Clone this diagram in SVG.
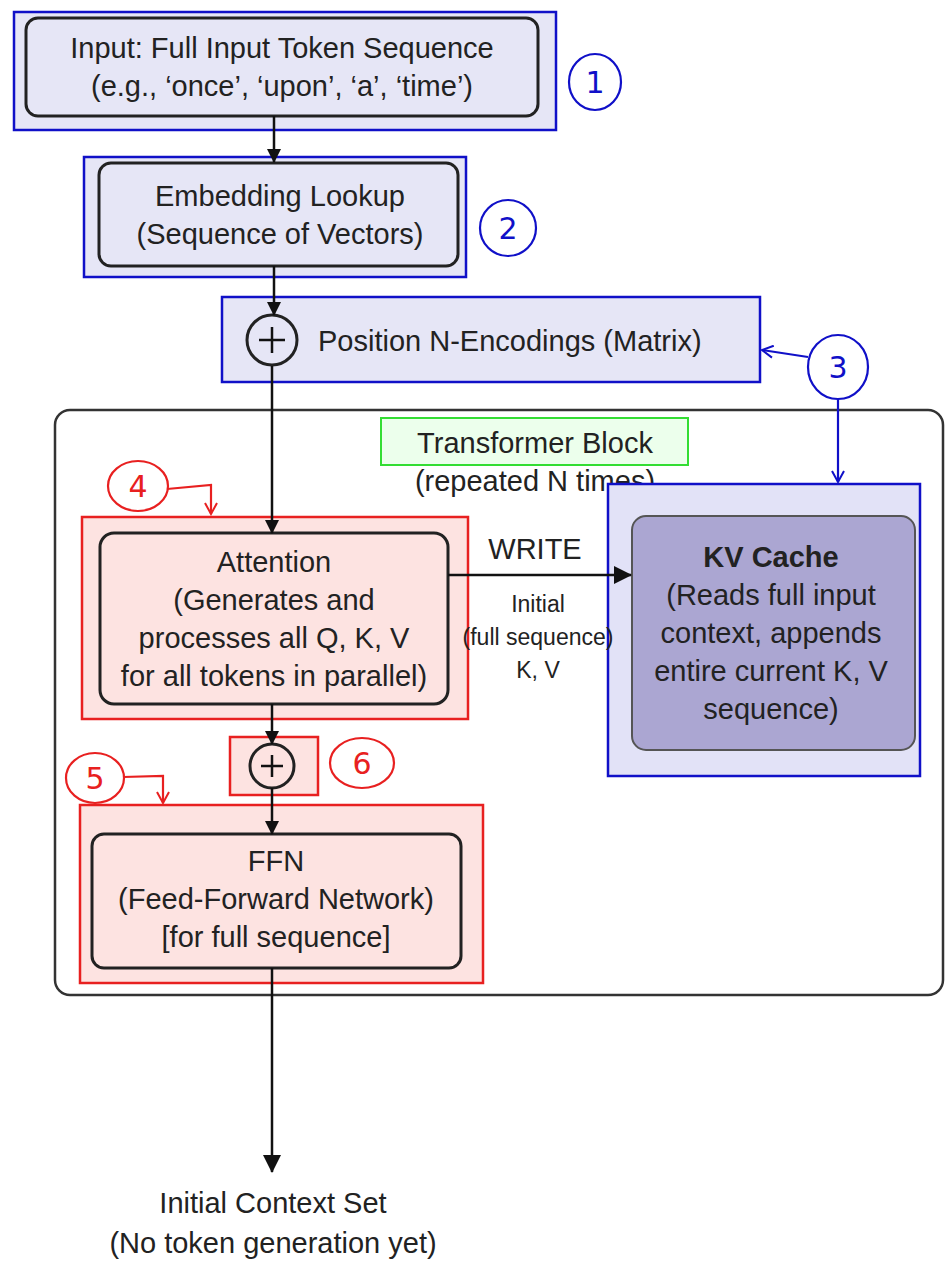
<svg xmlns="http://www.w3.org/2000/svg" width="948" height="1280" viewBox="0 0 948 1280">
<defs>
<marker id="ah" markerWidth="14" markerHeight="14" refX="13" refY="7" orient="auto" markerUnits="userSpaceOnUse" viewBox="0 0 14 14"><path d="M0,0 L14,7 L0,14 z" fill="#111"/></marker>
<marker id="ah2" markerWidth="18" markerHeight="18" refX="17" refY="9" orient="auto" markerUnits="userSpaceOnUse" viewBox="0 0 18 18"><path d="M0,0 L18,9 L0,18 z" fill="#111"/></marker>
<marker id="ob" markerWidth="14" markerHeight="14" refX="12" refY="7" orient="auto" markerUnits="userSpaceOnUse" viewBox="0 0 14 14"><path d="M1,1 L12,7 L1,13" fill="none" stroke="#1010c8" stroke-width="2"/></marker>
<marker id="or" markerWidth="14" markerHeight="14" refX="12" refY="7" orient="auto" markerUnits="userSpaceOnUse" viewBox="0 0 14 14"><path d="M1,1 L12,7 L1,13" fill="none" stroke="#e82020" stroke-width="2"/></marker>
<style>
text{font-family:"Liberation Sans",Arial,sans-serif;fill:#222;text-anchor:middle}
.t{font-size:29px}
.s{font-size:23px}
.node{stroke:#222;stroke-width:3}
.bl{fill:#e6e6f6;stroke:#1010c8;stroke-width:2.5}
.rd{fill:#fde3e1;stroke:#e82020;stroke-width:2.5}
.hb{fill:none;stroke:#1010c8;stroke-width:2.2}
.hr{fill:none;stroke:#e82020;stroke-width:2.2}
.hbt{fill:#1010c8;font-family:"DejaVu Sans",sans-serif;font-size:30px}
.hrt{fill:#e82020;font-family:"DejaVu Sans",sans-serif;font-size:30px}
.ln{stroke:#111;stroke-width:2.5;fill:none}
</style>
</defs>
<rect width="948" height="1280" fill="#fff"/>
<g id="block"><rect x="55" y="410" width="888" height="585" rx="15" fill="#fff" stroke="#333" stroke-width="2.5"/>
<rect x="381" y="418" width="307" height="47" fill="#ecffec" stroke="#33dd33" stroke-width="2"/>
<text class="t" x="535" y="453">Transformer Block</text>
<text class="t" x="535" y="491">(repeated N times)</text></g>
<g id="n1"><rect x="14" y="12" width="542" height="118" class="bl"/>
<rect x="26" y="18" width="512" height="98" rx="12" fill="#e6e6f6" class="node"/>
<text class="t" x="282" y="58">Input: Full Input Token Sequence</text>
<text class="t" x="282" y="96">(e.g., ‘once’, ‘upon’, ‘a’, ‘time’)</text></g>
<g id="n2"><rect x="84" y="157" width="382" height="120" class="bl"/>
<rect x="99" y="163" width="359" height="103" rx="12" fill="#e6e6f6" class="node"/>
<text class="t" x="280" y="206">Embedding Lookup</text>
<text class="t" x="280" y="244">(Sequence of Vectors)</text></g>
<g id="n3"><rect x="222" y="297" width="538" height="85" class="bl"/>
<circle cx="272" cy="340" r="25" fill="none" class="node" stroke-width="2.5"/>
<path d="M272,327 V353 M259,340 H285" stroke="#111" stroke-width="2.5"/>
<text class="t" x="318" y="351" style="text-anchor:start">Position N-Encodings (Matrix)</text></g>
<g id="n4"><rect x="82" y="517" width="386" height="202" class="rd"/>
<rect x="100" y="533" width="348" height="171" rx="14" fill="#fde3e1" class="node"/>
<text class="t" x="274" y="572">Attention</text>
<text class="t" x="274" y="610">(Generates and</text>
<text class="t" x="274" y="648">processes all Q, K, V</text>
<text class="t" x="274" y="686">for all tokens in parallel)</text></g>
<g id="kv"><rect x="608" y="484" width="312" height="292" fill="#e2e2f7" stroke="#1010c8" stroke-width="2.5"/>
<rect x="632" y="516" width="283" height="234" rx="14" fill="#aba6d2" stroke="#555" stroke-width="2"/>
<text class="t" x="771" y="567" font-weight="bold">KV Cache</text>
<text class="t" x="771" y="605">(Reads full input</text>
<text class="t" x="771" y="643">context, appends</text>
<text class="t" x="771" y="681">entire current K, V</text>
<text class="t" x="771" y="719">sequence)</text></g>
<g id="writelabel"><text class="t" x="535" y="559">WRITE</text>
<text class="s" x="538" y="612">Initial</text>
<text class="s" x="538" y="645">(full sequence)</text>
<text class="s" x="538" y="678">K, V</text></g>
<g id="n6"><rect x="230" y="737" width="88" height="58" class="rd"/>
<circle cx="272" cy="766" r="22" fill="none" class="node" stroke-width="2.5"/>
<path d="M272,755 V777 M261,766 H283" stroke="#111" stroke-width="2.5"/></g>
<g id="n5"><rect x="80" y="805" width="403" height="178" class="rd"/>
<rect x="92" y="834" width="369" height="134" rx="12" fill="#fde3e1" class="node"/>
<text class="t" x="276" y="871">FFN</text>
<text class="t" x="276" y="909">(Feed-Forward Network)</text>
<text class="t" x="276" y="947">[for full sequence]</text></g>
<g id="out"><text class="t" x="273" y="1213">Initial Context Set</text>
<text class="t" x="273" y="1253">(No token generation yet)</text></g>
<g id="connectors">
<line class="ln" x1="274" y1="116" x2="274" y2="162" marker-end="url(#ah)"/>
<line class="ln" x1="274" y1="266" x2="274" y2="315" marker-end="url(#ah)"/>
<line class="ln" x1="272" y1="366" x2="272" y2="533" marker-end="url(#ah)"/>
<line class="ln" x1="448" y1="575" x2="631" y2="575" marker-end="url(#ah2)"/>
<line class="ln" x1="272" y1="704" x2="272" y2="744" marker-end="url(#ah)"/>
<line class="ln" x1="272" y1="788" x2="272" y2="834" marker-end="url(#ah)"/>
<line class="ln" x1="272" y1="968" x2="272" y2="1172" marker-end="url(#ah2)"/>
<path class="hb" d="M808,357 L762,350" marker-end="url(#ob)"/>
<path class="hb" d="M838,398 L838,482" marker-end="url(#ob)"/>
<path class="hr" d="M167,489 L211,485 L211,514" marker-end="url(#or)"/>
<path class="hr" d="M123,777 L163,776 L163,803" marker-end="url(#or)"/>
</g>
<g id="annot">
<ellipse cx="595" cy="82" rx="26" ry="28" class="hb"/><text class="hbt" x="595" y="93">1</text>
<ellipse cx="508" cy="228" rx="28" ry="28" class="hb"/><text class="hbt" x="508" y="239">2</text>
<ellipse cx="838" cy="367" rx="30" ry="32" class="hb"/><text class="hbt" x="838" y="378">3</text>
<ellipse cx="138" cy="486" rx="30" ry="25" class="hr"/><text class="hrt" x="138" y="497">4</text>
<ellipse cx="95" cy="778" rx="29" ry="25" class="hr"/><text class="hrt" x="95" y="789">5</text>
<ellipse cx="362" cy="763" rx="32" ry="25" class="hr"/><text class="hrt" x="362" y="774">6</text>
</g>
</svg>
